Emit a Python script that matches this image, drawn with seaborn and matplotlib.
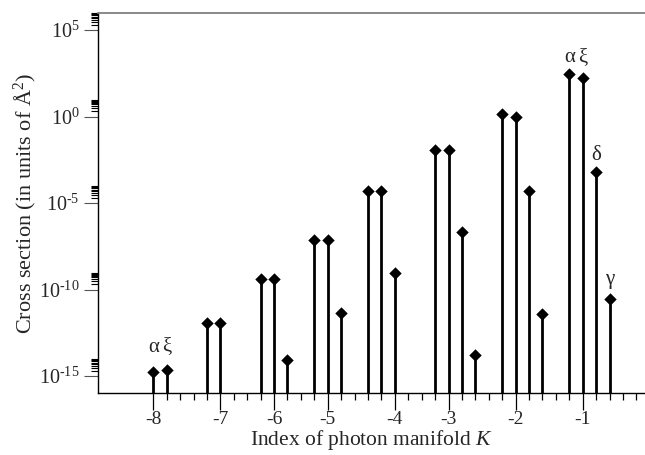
import matplotlib
matplotlib.use("Agg")
import matplotlib.pyplot as plt
import seaborn as sns
import pandas as pd
from matplotlib.ticker import FixedLocator, FixedFormatter, NullFormatter

# ---- data ----
slot = [0, 1, 4, 5, 8, 9, 10, 12, 13, 14, 16, 17, 18,
        21, 22, 23, 24, 26, 27, 28, 29, 31, 32, 33, 34]
cross_section = [1.7e-15, 2.1e-15, 1.15e-12, 1.15e-12, 4.0e-10, 4.0e-10, 8.0e-15,
                 7.4e-8, 7.4e-8, 4.4e-12, 5.1e-5, 5.1e-5, 8.9e-10,
                 1.2e-2, 1.2e-2, 2.2e-7, 1.7e-14, 1.38, 0.91, 5.1e-5, 3.8e-12,
                 295.0, 166.0, 5.8e-4, 2.8e-11]
k_tick_slots = [0, 5, 9, 13, 18, 22, 27, 32]
k_tick_labels = ["-8", "-7", "-6", "-5", "-4", "-3", "-2", "-1"]
y_major = [1e-15, 1e-10, 1e-5, 1e0, 1e5]
y_major_labels = [r"$10^{\text{-15}}$", r"$10^{\text{-10}}$", r"$10^{\text{-5}}$",
                  r"$10^{0}$", r"$10^{5}$"]
label_slots = [0, 1, 31, 32, 33, 34]
label_texts = ["α", "ξ", "α", "ξ", "δ", "γ"]

df = pd.DataFrame({"slot": slot, "cs": cross_section})

sns.set_theme(style="ticks")
plt.rcParams["font.family"] = ["Liberation Serif", "DejaVu Serif"]
plt.rcParams["mathtext.fontset"] = "custom"
plt.rcParams["mathtext.rm"] = "Liberation Serif"
plt.rcParams["mathtext.it"] = "Liberation Serif:italic"

W, H = 645, 455
fig = plt.figure(figsize=(W / 100, H / 100), dpi=100)
left_px, top_px, bottom_px = 97.7, 12.7, 393.3
ax = fig.add_axes([left_px / W, 1 - bottom_px / H, 1 - left_px / W,
                   (bottom_px - top_px) / H])

ymin, ymax = 1e-16, 1e6
ax.vlines(df["slot"], ymin, df["cs"], color="black", lw=2.0, zorder=2)
sns.scatterplot(data=df, x="slot", y="cs", marker="D", s=40, color="black",
                edgecolor="black", linewidth=0, ax=ax, zorder=3, legend=False)

ax.set_yscale("log")
ax.set_ylim(ymin, ymax)
ax.set_xlim(-4.14, 36.64)

# y ticks
ax.yaxis.set_major_locator(FixedLocator(y_major))
ax.yaxis.set_major_formatter(FixedFormatter(y_major_labels))
minor = [k * d for d in y_major for k in range(2, 10)]
ax.yaxis.set_minor_locator(FixedLocator(minor))
ax.yaxis.set_minor_formatter(NullFormatter())
ax.tick_params(axis="y", which="major", length=10, width=0.8, direction="out",
               labelsize=14.5, pad=3, color="#555555")
ax.tick_params(axis="y", which="minor", length=5, width=0.8, direction="out",
               color="black")

# x ticks
ax.xaxis.set_major_locator(FixedLocator(k_tick_slots))
ax.xaxis.set_major_formatter(FixedFormatter(k_tick_labels))
ax.xaxis.set_minor_locator(FixedLocator(list(range(0, 37))))
ax.tick_params(axis="x", which="major", length=12, width=0.9, direction="out",
               labelsize=14, pad=1, color="black")
ax.tick_params(axis="x", which="minor", length=5, width=0.9, direction="out",
               color="black")

for s in ["left", "bottom"]:
    ax.spines[s].set_color("black")
    ax.spines[s].set_linewidth(1.0)
ax.spines["top"].set_color("#808080")
ax.spines["top"].set_linewidth(1.3)
ax.spines["right"].set_visible(False)

ax.set_xlabel(r"Index of photon manifold $K$", fontsize=15.5, labelpad=0)
ax.set_ylabel(r"Cross section (in units of Å$^{2}$)", fontsize=16, labelpad=0)

offsets = [18, 17, 12, 15, 12.5, 14]
for sl, t, off in zip(label_slots, label_texts, offsets):
    v = df.loc[df["slot"] == sl, "cs"].iloc[0]
    ax.annotate(t, (sl, v), xytext=(0, off), textcoords="offset points",
                ha="center", va="center", fontsize=15)

fig.savefig("out.png", dpi=100)
